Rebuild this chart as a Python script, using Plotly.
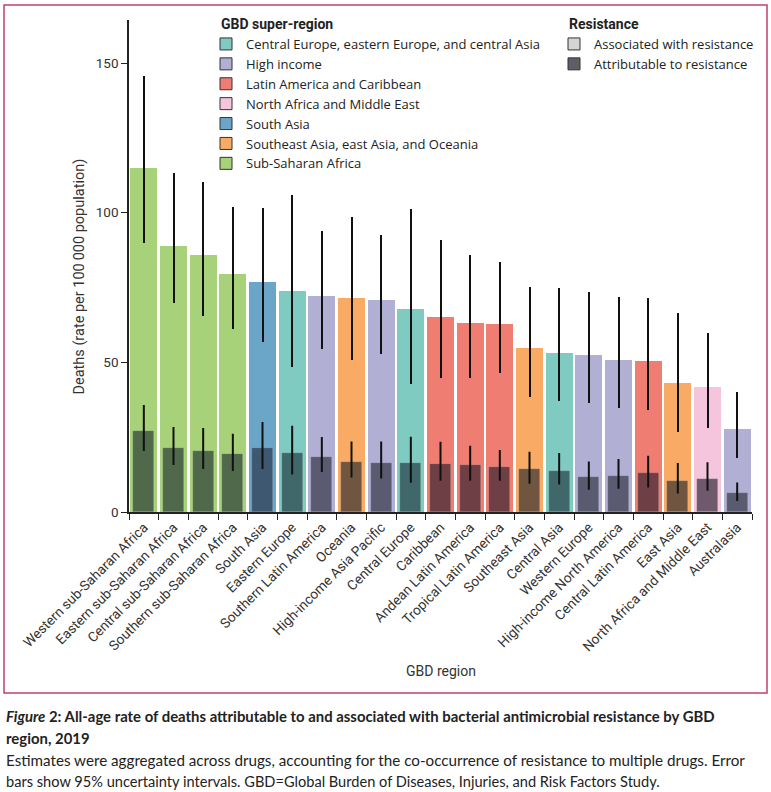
import plotly.graph_objects as go

# ---------------- data ----------------
regions = [
    "Western sub-Saharan Africa", "Eastern sub-Saharan Africa", "Central sub-Saharan Africa",
    "Southern sub-Saharan Africa", "South Asia", "Eastern Europe", "Southern Latin America",
    "Oceania", "High-income Asia Pacific", "Central Europe", "Caribbean",
    "Andean Latin America", "Tropical Latin America", "Southeast Asia", "Central Asia",
    "Western Europe", "High-income North America", "Central Latin America", "East Asia",
    "North Africa and Middle East", "Australasia",
]
super_region_of = [
    "SSA", "SSA", "SSA", "SSA", "SA", "CEE", "HI", "SEA", "HI", "CEE", "LAC",
    "LAC", "LAC", "SEA", "CEE", "HI", "HI", "LAC", "SEA", "NAME", "HI",
]
associated = [114.8, 88.9, 85.9, 79.5, 76.8, 73.8, 72.2, 71.5, 70.8, 67.8, 65.2,
              63.1, 62.8, 54.8, 53.1, 52.5, 50.8, 50.4, 43.2, 41.8, 27.8]
associated_hi = [145.3, 112.8, 109.8, 101.7, 101.3, 105.7, 93.6, 98.1, 92.3, 101.0, 90.5,
                 85.4, 83.1, 74.9, 74.4, 73.1, 71.5, 71.1, 66.2, 59.5, 39.9]
associated_lo = [90.3, 70.3, 65.8, 61.6, 57.1, 48.7, 54.9, 51.2, 53.1, 43.2, 45.2,
                 45.2, 46.9, 38.8, 37.5, 36.9, 35.1, 34.5, 27.2, 28.4, 18.5]
attributable = [27.1, 21.3, 20.5, 19.3, 21.4, 19.7, 18.4, 16.8, 16.4, 16.4, 16.0,
                15.7, 15.1, 14.3, 13.6, 11.6, 12.1, 12.9, 10.4, 11.1, 6.5]
attributable_hi = [35.4, 28.1, 27.7, 25.8, 29.7, 28.5, 24.7, 23.2, 23.2, 24.8, 23.1,
                   21.8, 20.4, 19.8, 19.4, 16.5, 17.4, 18.5, 16.0, 16.3, 9.5]
attributable_lo = [20.7, 16.0, 14.7, 14.0, 14.7, 12.9, 13.7, 11.9, 11.5, 10.1, 10.8,
                   10.8, 10.8, 9.8, 9.5, 7.8, 8.1, 8.5, 6.5, 7.4, 4.0]

super_keys = ["CEE", "HI", "LAC", "NAME", "SA", "SEA", "SSA"]
super_names = [
    "Central Europe, eastern Europe, and central Asia", "High income",
    "Latin America and Caribbean", "North Africa and Middle East", "South Asia",
    "Southeast Asia, east Asia, and Oceania", "Sub-Saharan Africa",
]
resistance_names = ["Associated with resistance", "Attributable to resistance"]

# ---------------- styles ----------------
light = {"CEE": "#80cbc1", "HI": "#b1afd4", "LAC": "#ef7d71", "NAME": "#f4c5dc",
         "SA": "#6ba6c9", "SEA": "#f9aa64", "SSA": "#a8d279"}
dark = {"CEE": "#40686a", "HI": "#5a5b70", "LAC": "#6e3f44", "NAME": "#6e5a6c",
        "SA": "#3d5870", "SEA": "#705640", "SSA": "#50694b"}
res_colors = ["#d4d4d4", "#5e5e66"]

FONT = "Roboto"
LEG_FONT = "Open Sans"
CAP_FONT = "Lato"
W, H = 771, 792
# plot area in pixels
L, R, T, B = 129, 752, 20, 512


def px_x(p):
    return (p - L) / (R - L)


def px_y(p):
    return (B - p) / (B - T)


fig = go.Figure()

# associated bars, one trace per super-region
for k in super_keys:
    idx = [i for i, s in enumerate(super_region_of) if s == k]
    fig.add_trace(go.Bar(
        x=[regions[i] for i in idx],
        y=[associated[i] for i in idx],
        width=0.92,
        marker=dict(color=light[k], line=dict(width=0)),
        error_y=dict(type="data", symmetric=False,
                     array=[associated_hi[i] - associated[i] for i in idx],
                     arrayminus=[associated[i] - associated_lo[i] for i in idx],
                     color="#111111", thickness=2, width=1),
        showlegend=False, hoverinfo="x+y",
    ))

# attributable bars
fig.add_trace(go.Bar(
    x=regions, y=attributable, width=0.70,
    marker=dict(color=[dark[s] for s in super_region_of],
                line=dict(width=0.6, color="rgba(255,255,255,0.25)")),
    error_y=dict(type="data", symmetric=False,
                 array=[h - v for h, v in zip(attributable_hi, attributable)],
                 arrayminus=[v - l for v, l in zip(attributable, attributable_lo)],
                 color="#111111", thickness=2, width=1),
    showlegend=False, hoverinfo="x+y",
))

# legend entries
for k, name in zip(super_keys, super_names):
    fig.add_trace(go.Bar(x=[None], y=[None], name=name, legend="legend",
                         marker=dict(color=light[k], line=dict(color="#333333", width=1))))
for name, c in zip(resistance_names, res_colors):
    fig.add_trace(go.Bar(x=[None], y=[None], name=name, legend="legend2",
                         marker=dict(color=c, line=dict(color="#333333", width=1))))

leg_common = dict(bgcolor="rgba(0,0,0,0)", font=dict(family=LEG_FONT, size=13, color="#222"),
                  itemwidth=30, tracegroupgap=0, xanchor="left", yanchor="top",
                  traceorder="normal")

annotations = [
    dict(text="<b>GBD super-region</b>", x=px_x(219), xref="paper", xanchor="left",
         y=px_y(24), yref="paper", yanchor="middle", showarrow=False,
         font=dict(family=FONT, size=14, color="#222")),
    dict(text="<b>Resistance</b>", x=px_x(567), xref="paper", xanchor="left",
         y=px_y(24), yref="paper", yanchor="middle", showarrow=False,
         font=dict(family=FONT, size=14, color="#222")),
    dict(text="GBD region", x=0.5, xref="paper", y=px_y(671), yref="paper",
         yanchor="middle", showarrow=False, font=dict(family=FONT, size=14, color="#333")),
    dict(text="Deaths (rate per 100\u2009000 population)", x=px_x(68), xref="paper",
         y=px_y(277), yref="paper", textangle=-90, showarrow=False,
         font=dict(family=FONT, size=14.5, color="#333")),
    dict(text="<b><i>Figure</i> 2: All-age rate of deaths attributable to and associated with bacterial antimicrobial resistance by GBD</b>",
         x=px_x(4), xref="paper", xanchor="left", y=px_y(716), yref="paper", yanchor="middle",
         showarrow=False, font=dict(family=CAP_FONT, size=14.9, color="#222")),
    dict(text="<b>region, 2019</b>",
         x=px_x(4), xref="paper", xanchor="left", y=px_y(738), yref="paper", yanchor="middle",
         showarrow=False, font=dict(family=CAP_FONT, size=14.9, color="#222")),
    dict(text="Estimates were aggregated across drugs, accounting for the co-occurrence of resistance to multiple drugs. Error",
         x=px_x(4), xref="paper", xanchor="left", y=px_y(760), yref="paper", yanchor="middle",
         showarrow=False, font=dict(family=CAP_FONT, size=15.2, color="#222")),
    dict(text="bars show 95% uncertainty intervals. GBD=Global Burden of Diseases, Injuries, and Risk Factors Study.",
         x=px_x(4), xref="paper", xanchor="left", y=px_y(781), yref="paper", yanchor="middle",
         showarrow=False, font=dict(family=CAP_FONT, size=14.6, color="#222")),
]

shapes = [dict(type="rect", xref="paper", yref="paper",
               x0=px_x(4), x1=px_x(767), y0=px_y(693), y1=px_y(5),
               line=dict(color="#c2406f", width=1.5), fillcolor="rgba(0,0,0,0)", layer="below")]

fig.update_layout(
    width=W, height=H,
    margin=dict(l=L, r=W - R, t=T, b=H - B, pad=0),
    paper_bgcolor="white", plot_bgcolor="white",
    barmode="overlay", bargap=0,
    font=dict(family=FONT, size=13, color="#333"),
    legend=dict(**leg_common, x=px_x(206), y=px_y(29)),
    legend2=dict(**leg_common, x=px_x(554), y=px_y(29)),
    xaxis=dict(type="category", categoryorder="array", categoryarray=regions,
               range=[-0.5, len(regions) - 0.5], showline=True, linecolor="#222", linewidth=2,
               ticks="outside", tickson="boundaries", ticklen=6, tickcolor="#222", tickwidth=1,
               tickangle=-45, tickfont=dict(family=FONT, size=13.7, color="#333"),
               showgrid=False, zeroline=False),
    yaxis=dict(range=[0, 164.4], tickvals=[0, 50, 100, 150], showline=True, linecolor="#222",
               linewidth=1.5, ticks="outside", ticklen=6, tickcolor="#222",
               tickfont=dict(family=FONT, size=13.5, color="#333"),
               showgrid=False, zeroline=False),
    annotations=annotations,
    shapes=shapes,
)

fig.write_html("out.html", config={"displayModeBar": False},
               post_script="document.body.style.margin='0';document.body.style.overflow='hidden';")
